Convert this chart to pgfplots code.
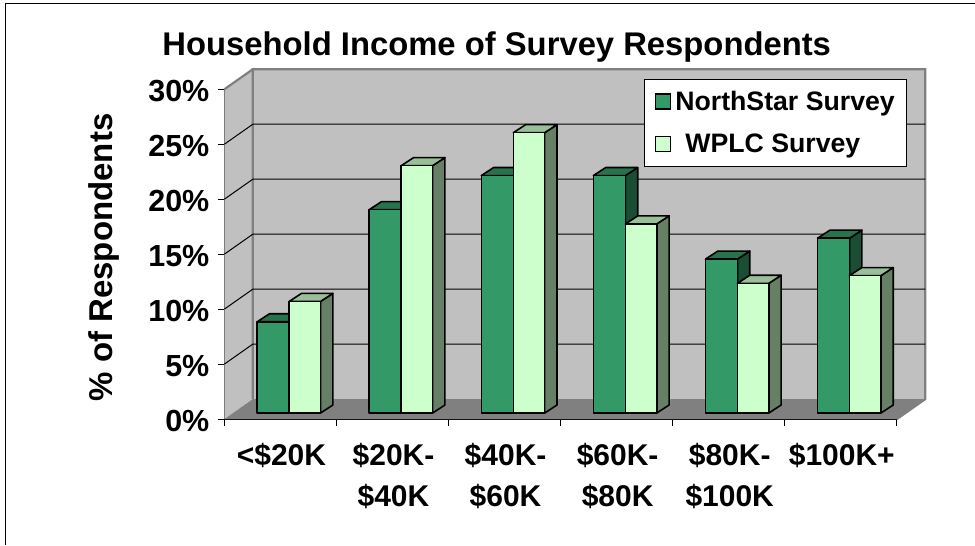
\documentclass[border=0pt]{standalone}
\usepackage{fontspec}
\setmainfont{Liberation Sans}
\usepackage{pgfplots}
\pgfplotsset{compat=1.18}
\definecolor{wall}{RGB}{192,192,192}
\definecolor{floorgray}{RGB}{128,128,128}
\definecolor{nsfront}{RGB}{51,153,102}
\definecolor{nstop}{RGB}{38,115,77}
\definecolor{nsside}{RGB}{26,77,51}
\definecolor{wpfront}{RGB}{204,255,204}
\definecolor{wptop}{RGB}{153,191,153}
\definecolor{wpside}{RGB}{102,128,102}
% 3d look: wall offset and bar depth, in axis units
\def\wdx{0.254}
\def\wdy{1.82}
\def\bdx{0.11}
\def\bdy{0.73}
\def\bbase{0.55}
\newcommand{\gridl}[1]{\addplot[black, line width=1pt, forget plot] coordinates {(0,#1) (\wdx,#1+\wdy) (6+\wdx,#1+\wdy)};}
% x0, x1, value, colour prefix
\newcommand{\tdbar}[4]{%
  \addplot[fill=#4side, draw=black, line width=1.6pt, line join=round, forget plot] coordinates {(#2,\bbase) (#2+\bdx,\bbase+\bdy) (#2+\bdx,\bbase+#3+\bdy) (#2,\bbase+#3)} -- cycle;
  \addplot[fill=#4top, draw=black, line width=1.6pt, line join=round, forget plot] coordinates {(#1,\bbase+#3) (#1+\bdx,\bbase+#3+\bdy) (#2+\bdx,\bbase+#3+\bdy) (#2,\bbase+#3)} -- cycle;
  \addplot[fill=#4front, draw=black, line width=1.6pt, line join=round, forget plot] coordinates {(#1,\bbase) (#1,\bbase+#3) (#2,\bbase+#3) (#2,\bbase)} -- cycle;
}
\newcommand{\tdgroup}[3]{%
  \tdbar{#1+0.2925}{#1+0.578}{#2}{ns}
  \tdbar{#1+0.578}{#1+0.858}{#3}{wp}
}
\begin{document}
\begin{tikzpicture}
\begin{axis}[
  scale only axis, width=672.8pt, height=330pt,
  xmin=0, xmax=6, ymin=0, ymax=30, clip=false,
  axis x line*=bottom, axis y line*=left,
  axis line style={black, line width=0.8pt, -},
  xtick={0.5,1.5,2.5,3.5,4.5,5.5},
  xticklabels={{<\$20K},{\$20K-\\\$40K},{\$40K-\\\$60K},{\$60K-\\\$80K},{\$80K-\\\$100K},{\$100K+}},
  minor xtick={0,1,2,3,4,5,6},
  ytick={0,5,10,15,20,25,30},
  yticklabels={0\%,5\%,10\%,15\%,20\%,25\%,30\%},
  major x tick style={draw=none},
  tick style={black, line width=0.8pt},
  tick align=outside, major tick length=6.5pt, minor tick length=6.5pt,
  xticklabel style={font=\fontsize{30}{41}\selectfont\bfseries, align=center, yshift=-14pt, xshift=1pt, anchor=north, text depth=0pt},
  yticklabel style={font=\fontsize{30.5}{36}\selectfont\bfseries, xshift=-5pt, yshift=-2pt},
  ylabel={\% of Respondents},
  ylabel style={font=\fontsize{33}{38}\selectfont\bfseries, at={(axis cs:-1.075,14.7)}, anchor=center, rotate=0},
  title={Household Income of Survey Respondents},
  title style={font=\fontsize{32.8}{38}\selectfont\bfseries, at={(axis cs:2.43,33.3)}, anchor=center},
  legend style={at={(axis cs:3.74,30.94)}, anchor=north west, draw=black, line width=0.6pt,
    font=\fontsize{26.7}{30}\selectfont\bfseries, inner xsep=9.5pt, inner ysep=10pt, row sep=18pt, cells={anchor=west}},
  legend image code/.code={\path[draw=none] (0pt,0pt) -- (20pt,0pt);\draw[#1, line width=1.6pt] (2pt,-7.5pt) rectangle (17pt,7.5pt);},
]
  % walls and floor
  \addplot[fill=wall, draw=none, forget plot] coordinates {(0,0) (0,30) (\wdx,30+\wdy) (\wdx,\wdy)} -- cycle;
  \addplot[fill=wall, draw=none, forget plot] coordinates {(\wdx,\wdy) (\wdx,30+\wdy) (6+\wdx,30+\wdy) (6+\wdx,\wdy)} -- cycle;
  \addplot[fill=floorgray, draw=none, forget plot] coordinates {(0,0) (\wdx,\wdy) (6+\wdx,\wdy) (6,0)} -- cycle;
  \addplot[draw=floorgray, line width=2.2pt, forget plot] coordinates {(0,30) (\wdx,30+\wdy)};
  \addplot[draw=floorgray, line width=2.2pt, forget plot] coordinates {(\wdx,\wdy) (\wdx,30+\wdy) (6+\wdx,30+\wdy) (6+\wdx,\wdy) (6,0)};
  \gridl{5}\gridl{10}\gridl{15}\gridl{20}\gridl{25}
  % bars: NorthStar, WPLC
  \tdgroup{0}{8.3}{10.15}
  \tdgroup{1}{18.5}{22.5}
  \tdgroup{2}{21.6}{25.5}
  \tdgroup{3}{21.6}{17.2}
  \tdgroup{4}{14.0}{11.8}
  \tdgroup{5}{15.9}{12.5}
  \addlegendimage{fill=nsfront, draw=black}
  \addlegendentry{NorthStar Survey}
  \addlegendimage{fill=wpfront, draw=black}
  \addlegendentry{\hspace*{10pt}WPLC Survey}
\end{axis}
% page size and chart frame
\path (-224.5pt,-125.7pt) rectangle (750.5pt,419.3pt);
\draw[black, line width=1pt] (-218.5pt,-125.7pt) -- (-218.5pt,415.3pt) -- (750.5pt,415.3pt);
\end{tikzpicture}
\end{document}
